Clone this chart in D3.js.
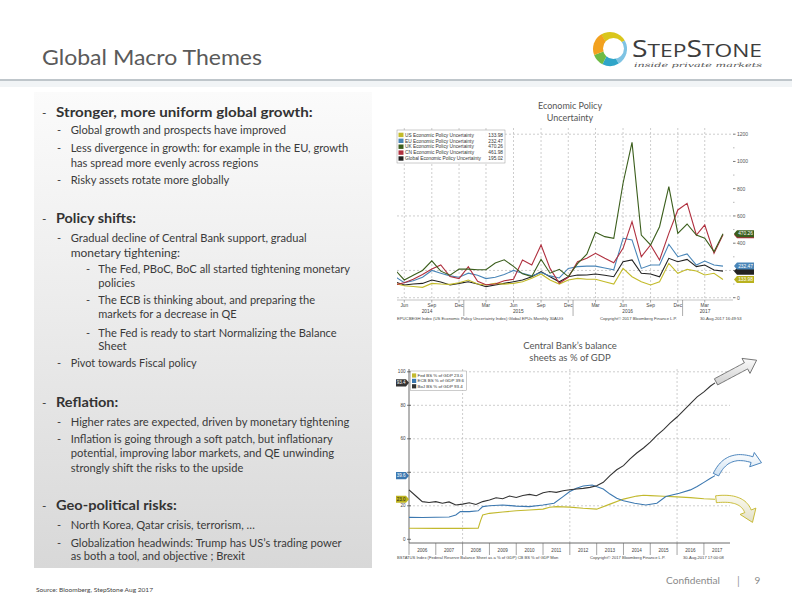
<!DOCTYPE html>
<html><head><meta charset="utf-8">
<script src="https://cdn.jsdelivr.net/npm/d3@7"></script>
<style>body{margin:0;background:#fff} svg{display:block}</style>
</head><body>
<svg id="s" width="792" height="612"></svg>
<script>
// ---------------- DATA ----------------
const epuMonths = ["2014-05","2014-06","2014-07","2014-08","2014-09","2014-10","2014-11","2014-12",
 "2015-01","2015-02","2015-03","2015-04","2015-05","2015-06","2015-07","2015-08","2015-09","2015-10","2015-11","2015-12",
 "2016-01","2016-02","2016-03","2016-04","2016-05","2016-06","2016-07","2016-08","2016-09","2016-10","2016-11","2016-12",
 "2017-01","2017-02","2017-03","2017-04","2017-05"];
const usEPU = [105,88,82,76,105,100,98,110, 130,100,93,105,100,105,117,142,174,130,100,130, 142,135,135,117,100,215,154,117,93,117,252,179, 208,196,167,179,134];
const euEPU = [155,110,125,150,200,180,160,150, 180,165,140,150,170,200,180,160,185,160,145,215, 228,232,232,218,205,436,424,215,240,240,392,301, 321,240,269,240,232];
const ukEPU = [205,130,165,200,270,195,165,210, 210,205,205,255,278,230,175,155,282,180,208,155, 250,320,480,448,436,840,1140,460,387,521,815,472, 541,460,436,338,470];
const cnEPU = [95,110,135,170,210,240,155,140, 227,120,95,100,125,135,276,240,387,215,106,150, 264,289,326,290,257,362,558,301,387,277,472,644, 693,460,534,326,462];
const glEPU = [117,93,100,105,130,115,93,105, 117,100,81,93,105,117,130,154,191,154,117,154, 166,167,174,165,154,264,277,179,174,154,289,264, 281,228,240,203,195];
const epuNames = ["US Economic Policy Uncertainty","EU Economic Policy Uncertainty","UK Economic Policy Uncertainty","CN Economic Policy Uncertainty","Global Economic Policy Uncertainty"];
const epuLast = ["133.98","232.47","470.26","461.98","195.02"];
const epuTicks = [0,200,400,600,800,1000,1200];
const epuGrid = [0,200,600,1200];

const bojDates = ["2006-01","2006-04","2006-07","2006-10","2007-01","2007-04","2007-07","2007-10","2008-01","2008-04","2008-07","2008-10","2009-01","2009-04","2009-07","2009-10","2010-01","2010-04","2010-07","2010-10","2011-01","2011-04","2011-07","2011-10","2012-01","2012-04","2012-07","2012-10","2013-01","2013-04","2013-07","2013-10","2014-01","2014-04","2014-07","2014-10","2015-01","2015-04","2015-07","2015-10","2016-01","2016-04","2016-07","2016-10","2017-01","2017-04","2017-06"];
const bojVals = [29.5,26.0,22.5,22.0, 22.5,21.5,22.3,20.5, 21.0,21.8,20.8,22.5, 23.5,24.8,24.2,25.8, 25.0,26.2,26.8,26.0, 27.8,28.5,28.0,29.0, 29.6,30.0,30.4,31.0, 32.0,34.0,38.0,41.5, 44.0,48.0,51.5,54.5, 58.0,62.0,65.5,69.5, 73.0,77.0,81.0,85.0, 88.0,91.5,93.4];
const ecbDates = ["2006-01","2006-07","2007-01","2007-07","2007-10","2007-12","2008-04","2008-08","2008-10","2009-01","2009-07","2010-01","2010-07","2011-01","2011-06","2011-10","2012-01","2012-04","2012-07","2012-11","2013-04","2013-07","2013-10","2014-01","2014-06","2014-11","2015-04","2015-08","2016-02","2016-07","2016-10","2017-01","2017-04","2017-06"];
const ecbVals = [13.1,13.0,13.2,13.3,14.5,16.5,16.5,17.0,19.5,20.0,20.5,19.8,19.5,20.5,21.5,25.5,28.5,30.5,31.8,32.4,30.0,27.0,24.5,23.0,21.5,20.5,21.5,25.5,27.5,29.5,31.5,34.0,36.4,38.0];
const fedDates = ["2006-01","2007-01","2008-01","2008-08","2008-09","2008-10","2009-01","2009-07","2010-01","2010-07","2011-01","2011-04","2011-07","2012-01","2012-07","2013-01","2013-07","2014-01","2014-07","2014-10","2015-01","2015-07","2016-01","2016-07","2017-01","2017-06"];
const fedVals = [6.6,6.5,6.5,6.6,11.0,14.5,15.5,16.3,17.0,17.5,18.0,19.1,19.5,19.2,18.5,18.0,21.0,24.0,25.8,26.3,26.1,25.7,25.3,24.9,24.2,23.9];
const cbNames = ["Fed BS % of GDP","ECB BS % of GDP","BoJ BS % of GDP"];
const cbLast = ["23.0","39.6","93.4"];
const cbTicks = [0,20,40,60,80,100];
const cbYears = [2006,2007,2008,2009,2010,2011,2012,2013,2014,2015,2016,2017];

const bullets = [
 {lvl:0,dash:true,text:"Stronger, more uniform global growth:"},
 {lvl:1,dash:true,text:"Global growth and prospects have improved"},
 {lvl:1,dash:true,text:"Less divergence in growth: for example in the EU, growth"},
 {lvl:1,dash:false,text:"has spread more evenly across regions"},
 {lvl:1,dash:true,text:"Risky assets rotate more globally"},
 {lvl:0,dash:true,text:"Policy shifts:"},
 {lvl:1,dash:true,text:"Gradual decline of Central Bank support, gradual"},
 {lvl:1,dash:false,text:"monetary tightening:"},
 {lvl:2,dash:true,text:"The Fed, PBoC, BoC  all started tightening monetary"},
 {lvl:2,dash:false,text:"policies"},
 {lvl:2,dash:true,text:"The ECB is thinking about, and preparing the"},
 {lvl:2,dash:false,text:"markets for a decrease in QE"},
 {lvl:2,dash:true,text:"The Fed is ready to start Normalizing the Balance"},
 {lvl:2,dash:false,text:"Sheet"},
 {lvl:1,dash:true,text:"Pivot towards Fiscal policy"},
 {lvl:0,dash:true,text:"Reflation:"},
 {lvl:1,dash:true,text:"Higher rates are expected, driven by monetary tightening"},
 {lvl:1,dash:true,text:"Inflation is going through a soft patch, but inflationary"},
 {lvl:1,dash:false,text:"potential, improving labor markets, and QE unwinding"},
 {lvl:1,dash:false,text:"strongly shift the risks to the upside"},
 {lvl:0,dash:true,text:"Geo-political risks:"},
 {lvl:1,dash:true,text:"North Korea, Qatar crisis, terrorism, \u2026"},
 {lvl:1,dash:true,text:"Globalization headwinds: Trump has US\u2019s trading power"},
 {lvl:1,dash:false,text:"as both a tool, and objective ; Brexit"}
];
// text layout (baseline, width) for each bullet line
const bulletLayout = [[116.5,256.7],[134,215.3],[151.5,277.6],[166.5,187.6],[184,158.6],
 [222.5,80],[241.5,236],[256.5,109.3],[272.5,251.7],[287.3,36.7],[304,216.7],[318.3,138.4],[336.5,238.4],[350,28.4],[366.5,126],
 [407.3,62.3],[425.7,278.6],[443.3,262],[457.3,263.3],[471.7,172.6],
 [510,120.7],[529,184.3],[546.7,271],[560,174.3]];

// ---------------- DRAW ----------------
const W=792,H=612;
const svg=d3.select("#s");
const defs=svg.append("defs");
const parse=d3.timeParse("%Y-%m");
const BODY="Lato, 'Open Sans', sans-serif";
const SMALL="'Liberation Sans', Arial, sans-serif";
function lg(id, stops, x2, y2){
  const g=defs.append("linearGradient").attr("id",id).attr("x1",0).attr("y1",0).attr("x2",x2).attr("y2",y2);
  stops.forEach(([o,c])=>g.append("stop").attr("offset",o).attr("stop-color",c));
}
lg("panel",[[0,"#fbfbfb"],[0.45,"#ececec"],[1,"#d8d8d8"]],0,1);
lg("arrGray",[[0,"#fbfbfb"],[1,"#cfcfcf"]],0,1);
lg("arrBlue",[[0,"#ffffff"],[1,"#cde0f1"]],0,1);
lg("arrYel",[[0,"#fbfaf0"],[1,"#e2dfc6"]],0,1);

svg.append("rect").attr("width",W).attr("height",H).attr("fill","#fff");

// header
svg.append("text").attr("x",42).attr("y",65).attr("font-family",BODY).attr("font-size",22)
  .attr("fill","#5a5a5a").attr("textLength",220).attr("lengthAdjust","spacingAndGlyphs").text("Global Macro Themes");
svg.append("rect").attr("x",0).attr("y",81).attr("width",W).attr("height",6).attr("fill","#f1f4f6");
svg.append("line").attr("x1",0).attr("x2",W).attr("y1",80).attr("y2",80).attr("stroke","#aab3ba").attr("stroke-width",1.5);

// logo
const logo=svg.append("g");
const ringC=[610,49];
const segs=[[-0.55,1.05,"#d9c61c"],[1.05,2.6,"#7ec3e3"],[2.6,3.6,"#2fa5c8"],[3.6,4.35,"#6dbb45"],[4.35,5.75,"#f2a11f"]];
segs.forEach(([a0,a1,c])=>{
  logo.append("path").attr("transform",`translate(${ringC})`)
    .attr("d",d3.arc()({innerRadius:0,outerRadius:17,startAngle:a0,endAngle:a1})).attr("fill",c);
});
logo.append("circle").attr("cx",613.5).attr("cy",48.5).attr("r",10.5).attr("fill","#fff");
const st=logo.append("text").attr("x",632).attr("y",56.5).attr("font-family","'Open Sans', sans-serif")
  .attr("fill","#3d3d3d").attr("textLength",130).attr("lengthAdjust","spacingAndGlyphs");
[["S",23],["TEP",18.5],["S",23],["TONE",18.5]].forEach(([t,s])=>st.append("tspan").attr("font-size",s).text(t));
logo.append("text").attr("x",634).attr("y",67).attr("font-family","'DejaVu Serif', serif").attr("font-style","italic")
  .attr("font-size",6).attr("fill","#555").attr("textLength",128).attr("lengthAdjust","spacingAndGlyphs").text("inside private markets");

// left panel
svg.append("rect").attr("x",34).attr("y",92).attr("width",338).attr("height",476).attr("fill","url(#panel)");
const dashX=[42,57,86], textX=[56,70.7,98.3];
bullets.forEach((b,i)=>{
  const [yb,w]=bulletLayout[i];
  if(b.dash) svg.append("text").attr("x",dashX[b.lvl]).attr("y",yb).attr("font-family",BODY)
     .attr("font-size",b.lvl===0?12:11).attr("fill","#3a3a3a").text("-");
  svg.append("text").attr("x",textX[b.lvl]).attr("y",yb).attr("font-family",BODY)
     .attr("font-size",b.lvl===0?14:11).attr("font-weight",b.lvl===0?"bold":"normal")
     .attr("fill",b.lvl===0?"#333":"#3a3a3a").attr("textLength",w).attr("lengthAdjust","spacingAndGlyphs").text(b.text);
});

// footer
svg.append("text").attr("x",36).attr("y",592).attr("font-family",BODY).attr("font-size",6).attr("fill","#444")
  .attr("textLength",117).attr("lengthAdjust","spacingAndGlyphs").text("Source: Bloomberg, StepStone Aug 2017");
svg.append("text").attr("x",666).attr("y",584).attr("font-family",BODY).attr("font-size",10).attr("fill","#8a8a8a")
  .attr("textLength",54).attr("lengthAdjust","spacingAndGlyphs").text("Confidential");
svg.append("text").attr("x",737).attr("y",585).attr("font-family",BODY).attr("font-size",11).attr("fill","#999").text("|");
svg.append("text").attr("x",754.5).attr("y",584).attr("font-family",BODY).attr("font-size",10).attr("fill","#8a8a8a").text("9");

// ---------------- CHART 1: EPU ----------------
const c1=svg.append("g");
const e1Dates=epuMonths.map(parse);
const x1=d3.scaleTime().domain([e1Dates[0],e1Dates[e1Dates.length-1]]).range([395,723]);
const y1=d3.scaleLinear().domain([0,1200]).range([297.7,134.2]);
const P1={l:397,r:733,t:128,b:298};
c1.append("text").attr("x",570).attr("y",109).attr("text-anchor","middle").attr("font-family",BODY).attr("font-size",9).attr("fill","#555").text("Economic Policy");
c1.append("text").attr("x",570).attr("y",121).attr("text-anchor","middle").attr("font-family",BODY).attr("font-size",9).attr("fill","#555").text("Uncertainty");
// grid
const q1=e1Dates.filter(d=>[2,5,8,11].includes(d.getMonth()));
c1.selectAll(".vg").data(q1).join("line").attr("x1",d=>x1(d)).attr("x2",d=>x1(d)).attr("y1",P1.t).attr("y2",P1.b)
  .attr("stroke","#b8b8b8").attr("stroke-width",0.7).attr("stroke-dasharray","2,2");
c1.selectAll(".hg").data(epuGrid).join("line").attr("x1",P1.l).attr("x2",P1.r).attr("y1",d=>y1(d)).attr("y2",d=>y1(d))
  .attr("stroke","#b8b8b8").attr("stroke-width",0.7).attr("stroke-dasharray","2,2");
const epuSeries=[usEPU,euEPU,ukEPU,cnEPU,glEPU];
const tagYs1=epuSeries.map(s=>y1(s[s.length-1]));
// right axis
c1.selectAll(".rt").data(epuTicks).join("line").attr("x1",P1.r).attr("x2",P1.r+2.5).attr("y1",d=>y1(d)).attr("y2",d=>y1(d)).attr("stroke","#555").attr("stroke-width",0.8);
c1.selectAll(".rm").data(epuTicks.slice(1).map(d=>d-100)).join("line").attr("x1",P1.r).attr("x2",P1.r+1.5).attr("y1",d=>y1(d)).attr("y2",d=>y1(d)).attr("stroke","#888").attr("stroke-width",0.6);
c1.selectAll(".rl").data(epuTicks.filter(v=>tagYs1.every(ty=>Math.abs(ty-y1(v))>6))).join("text")
  .attr("x",P1.r+4).attr("y",d=>y1(d)+1.8).attr("font-family",SMALL).attr("font-size",5).attr("fill","#555").text(d=>d);
// bottom axis
c1.append("line").attr("x1",P1.l).attr("x2",P1.r).attr("y1",300).attr("y2",300).attr("stroke","#9a9a9a").attr("stroke-width",0.6);
c1.selectAll(".bt").data(q1).join("line").attr("x1",d=>x1(d)).attr("x2",d=>x1(d)).attr("y1",300).attr("y2",302.5).attr("stroke","#777").attr("stroke-width",0.6);
const jan1=e1Dates.filter(d=>d.getMonth()===0);
c1.selectAll(".bs").data(jan1).join("line").attr("x1",d=>x1(d)-4.5).attr("x2",d=>x1(d)-4.5).attr("y1",300).attr("y2",316).attr("stroke","#777").attr("stroke-width",0.6);
c1.selectAll(".bl").data(q1).join("text").attr("x",d=>x1(d)).attr("y",307).attr("text-anchor","middle").attr("font-family",SMALL).attr("font-size",4.8).attr("fill","#444").text(d=>d3.timeFormat("%b")(d));
const yrs1=[2014,2015,2016,2017].map(yy=>{
  const ds=e1Dates.filter(d=>d.getFullYear()===yy);
  return {yy, x:(x1(ds[0])+x1(ds[ds.length-1]))/2};
});
c1.selectAll(".yl").data(yrs1).join("text").attr("x",d=>d.x).attr("y",313).attr("text-anchor","middle").attr("font-family",SMALL).attr("font-size",4.8).attr("fill","#444").text(d=>d.yy);
c1.append("text").attr("x",397).attr("y",320).attr("font-family",SMALL).attr("font-size",4.2).attr("fill","#444")
  .text("EPUCBEGH Index (US Economic Policy Uncertainty Index) Global EPUs  Monthly 30AUG");
c1.append("text").attr("x",600).attr("y",320).attr("font-family",SMALL).attr("font-size",4.2).attr("fill","#444").text("Copyright\u00a9 2017 Bloomberg Finance L.P.");
c1.append("text").attr("x",700).attr("y",320).attr("font-family",SMALL).attr("font-size",4.2).attr("fill","#444").text("30-Aug-2017 16:49:53");
// lines
defs.append("clipPath").attr("id","clip1").append("rect").attr("x",P1.l).attr("y",P1.t-10).attr("width",P1.r-P1.l).attr("height",P1.b-P1.t+12);
const epuCols=["#c3bb2a","#4a86b8","#3b5e1c","#b0303f","#222"];
const line1=d3.line().x((d,i)=>x1(e1Dates[i])).y(d=>y1(d));
const lg1=c1.append("g").attr("clip-path","url(#clip1)");
[4,0,1,3,2].forEach(k=>{
  lg1.append("path").attr("d",line1(epuSeries[k])).attr("fill","none").attr("stroke",epuCols[k]).attr("stroke-width",1.1);
});
// legend
const L1=c1.append("g");
L1.append("rect").attr("x",397).attr("y",130).attr("width",108).attr("height",33).attr("fill","#fff").attr("fill-opacity",0.92).attr("stroke","#999").attr("stroke-width",0.5);
epuNames.forEach((n,i)=>{
  const yy=135+i*5.9;
  L1.append("rect").attr("x",398.5).attr("y",yy-2.3).attr("width",5).attr("height",4.4).attr("fill",epuCols[i]);
  L1.append("text").attr("x",405).attr("y",yy+1.6).attr("font-family",SMALL).attr("font-size",4.8).attr("fill","#333").text(n);
  L1.append("text").attr("x",503).attr("y",yy+1.6).attr("text-anchor","end").attr("font-family",SMALL).attr("font-size",4.8).attr("fill","#333").text(epuLast[i]);
});
// end tags (tags that sit under another tag are drawn as bare strips, as in the reference)
function tagR(g,x,y,txt,bg,fg){
  g.append("path").attr("d",`M${x},${y} L${x+3},${y-3.5} L${x+20},${y-3.5} L${x+20},${y+3.5} L${x+3},${y+3.5} Z`).attr("fill",bg);
  if(txt) g.append("text").attr("x",x+11.5).attr("y",y+1.7).attr("text-anchor","middle").attr("font-family",SMALL).attr("font-size",4.8).attr("fill",fg).text(txt);
}
[4,3,0,1,2].forEach(k=>{
  const hidden=(k===4||k===3);
  tagR(c1,P1.r+1,tagYs1[k],hidden?null:epuLast[k],k===0?"#b9b21f":epuCols[k],"#fff");
});

// ---------------- CHART 2: CB balance sheets ----------------
const c2=svg.append("g");
const x2=d3.scaleTime().domain([new Date(2006,0,1),new Date(2017,5,1)]).range([409,715]);
const y2=d3.scaleLinear().domain([0,100]).range([539.3,371.8]);
const P2={l:409,r:730,t:369,b:543};
const cbSeries=[[fedDates,fedVals],[ecbDates,ecbVals],[bojDates,bojVals]];
const tagYs2=cbSeries.map(([ds,vs])=>y2(vs[vs.length-1]));
c2.append("text").attr("x",570).attr("y",348.5).attr("text-anchor","middle").attr("font-family",BODY).attr("font-size",9.5).attr("fill","#555").text("Central Bank\u2019s balance");
c2.append("text").attr("x",570).attr("y",360.5).attr("text-anchor","middle").attr("font-family",BODY).attr("font-size",9.5).attr("fill","#555").text("sheets as % of GDP");
c2.selectAll(".hg").data(cbTicks.slice(1)).join("line").attr("x1",P2.l).attr("x2",P2.r).attr("y1",d=>y2(d)).attr("y2",d=>y2(d))
  .attr("stroke","#b8b8b8").attr("stroke-width",0.7).attr("stroke-dasharray","2,2");
c2.selectAll(".vg").data([2008,2012,2016]).join("line").attr("x1",d=>x2(new Date(d,0,1))).attr("x2",d=>x2(new Date(d,0,1))).attr("y1",P2.t).attr("y2",P2.b)
  .attr("stroke","#b8b8b8").attr("stroke-width",0.7).attr("stroke-dasharray","2,2");
c2.append("line").attr("x1",P2.l).attr("x2",P2.l).attr("y1",P2.t).attr("y2",P2.b).attr("stroke","#444").attr("stroke-width",0.8);
c2.append("line").attr("x1",P2.l).attr("x2",P2.r).attr("y1",P2.b).attr("y2",P2.b).attr("stroke","#444").attr("stroke-width",0.8);
c2.selectAll(".lt").data(cbTicks).join("line").attr("x1",P2.l-2).attr("x2",P2.l+2).attr("y1",d=>y2(d)).attr("y2",d=>y2(d)).attr("stroke","#444").attr("stroke-width",0.7);
c2.selectAll(".ll").data(cbTicks.filter(v=>tagYs2.every(ty=>Math.abs(ty-y2(v))>6))).join("text")
  .attr("x",P2.l-3.5).attr("y",d=>y2(d)+1.6).attr("text-anchor","end").attr("font-family",SMALL).attr("font-size",4.6).attr("fill","#444").text(d=>d);
c2.selectAll(".bs").data(cbYears).join("line").attr("x1",d=>x2(new Date(d,0,1))).attr("x2",d=>x2(new Date(d,0,1))).attr("y1",P2.b).attr("y2",P2.b+12).attr("stroke","#666").attr("stroke-width",0.6);
c2.selectAll(".yl").data(cbYears).join("text").attr("x",d=>x2(new Date(d,6,1))).attr("y",552).attr("text-anchor","middle").attr("font-family",SMALL).attr("font-size",4.6).attr("fill","#444").text(d=>d);
c2.append("text").attr("x",397).attr("y",559).attr("font-family",SMALL).attr("font-size",4.1).attr("fill","#444")
  .text("BSTATUS Index (Federal Reserve Balance Sheet as a % of GDP) CB BS % of GDP  Mon");
c2.append("text").attr("x",590).attr("y",559).attr("font-family",SMALL).attr("font-size",4.1).attr("fill","#444").text("Copyright\u00a9 2017 Bloomberg Finance L.P.");
c2.append("text").attr("x",683).attr("y",559).attr("font-family",SMALL).attr("font-size",4.1).attr("fill","#444").text("30-Aug-2017 17:00:08");
const cbCols=["#c2b92e","#3c78b0","#333"];
const line2=(ds)=>d3.line().x((d,i)=>x2(parse(ds[i]))).y(d=>y2(d));
[0,1,2].forEach(k=>{
  const [ds,vs]=cbSeries[k];
  c2.append("path").attr("d",line2(ds)(vs)).attr("fill","none").attr("stroke",cbCols[k]).attr("stroke-width",1.1);
});
// legend
const L2=c2.append("g");
L2.append("rect").attr("x",410.5).attr("y",371).attr("width",56).attr("height",19.5).attr("fill","#fff").attr("fill-opacity",0.92).attr("stroke","#999").attr("stroke-width",0.5);
cbNames.forEach((n,i)=>{
  const yy=375.5+i*5.4;
  L2.append("rect").attr("x",412).attr("y",yy-2.1).attr("width",4.2).attr("height",4.2).attr("fill",cbCols[i]);
  L2.append("text").attr("x",417.5).attr("y",yy+1.5).attr("font-family",SMALL).attr("font-size",4.4).attr("fill","#333").text(n+" "+cbLast[i]);
});
// left tags
function tagL(g,x,y,txt,bg,fg){
  g.append("path").attr("d",`M${x},${y} L${x-3},${y-3.6} L${x-13},${y-3.6} L${x-13},${y+3.6} L${x-3},${y+3.6} Z`).attr("fill",bg);
  g.append("text").attr("x",x-7.8).attr("y",y+1.6).attr("text-anchor","middle").attr("font-family",SMALL).attr("font-size",4.6).attr("fill",fg).text(txt);
}
[0,1,2].forEach(k=>{
  tagL(c2,P2.l,tagYs2[k],cbLast[k],k===0?"#bdb31f":cbCols[k],k===0?"#222":"#fff");
});
// annotation arrows anchored at series ends
function blockArrow(p0,p1,p2,w,hw,hl){
  const N=24,L=[],R=[];
  const bez=t=>[(1-t)*(1-t)*p0[0]+2*(1-t)*t*p1[0]+t*t*p2[0],(1-t)*(1-t)*p0[1]+2*(1-t)*t*p1[1]+t*t*p2[1]];
  const der=t=>[2*(1-t)*(p1[0]-p0[0])+2*t*(p2[0]-p1[0]),2*(1-t)*(p1[1]-p0[1])+2*t*(p2[1]-p1[1])];
  for(let i=0;i<=N;i++){
    const t=i/N,p=bez(t),d=der(t),m=Math.hypot(d[0],d[1]),n=[-d[1]/m,d[0]/m];
    L.push([p[0]+n[0]*w/2,p[1]+n[1]*w/2]); R.push([p[0]-n[0]*w/2,p[1]-n[1]*w/2]);
  }
  const d=der(1),m=Math.hypot(d[0],d[1]),u=[d[0]/m,d[1]/m],n=[-u[1],u[0]];
  const pts=[...L,[p2[0]+n[0]*hw/2,p2[1]+n[1]*hw/2],[p2[0]+u[0]*hl,p2[1]+u[1]*hl],[p2[0]-n[0]*hw/2,p2[1]-n[1]*hw/2],...R.reverse()];
  return "M"+pts.map(p=>p[0].toFixed(1)+","+p[1].toFixed(1)).join("L")+"Z";
}
const endPt=k=>{const [ds,vs]=cbSeries[k];return [x2(parse(ds[ds.length-1])),y2(vs[vs.length-1])];};
const eB=endPt(2), eE=endPt(1), eF=endPt(0);
c2.append("path").attr("d",blockArrow([eB[0]+1,eB[1]-1],[eB[0]+16,eB[1]-9],[eB[0]+31,eB[1]-17],7,17,12))
  .attr("fill","url(#arrGray)").attr("stroke","#555").attr("stroke-width",0.8);
c2.append("path").attr("d",blockArrow([eE[0]+1,eE[1]-1],[eE[0]+12,eE[1]-24],[eE[0]+37,eE[1]-16],6,15,10))
  .attr("fill","url(#arrBlue)").attr("stroke","#3a78b5").attr("stroke-width",0.9);
c2.append("path").attr("d",blockArrow([eF[0]+1,eF[1]],[eF[0]+27,eF[1]-3],[eF[0]+33,eF[1]+12],7,17,12))
  .attr("fill","url(#arrYel)").attr("stroke","#c4b626").attr("stroke-width",0.9);
</script></body></html>
